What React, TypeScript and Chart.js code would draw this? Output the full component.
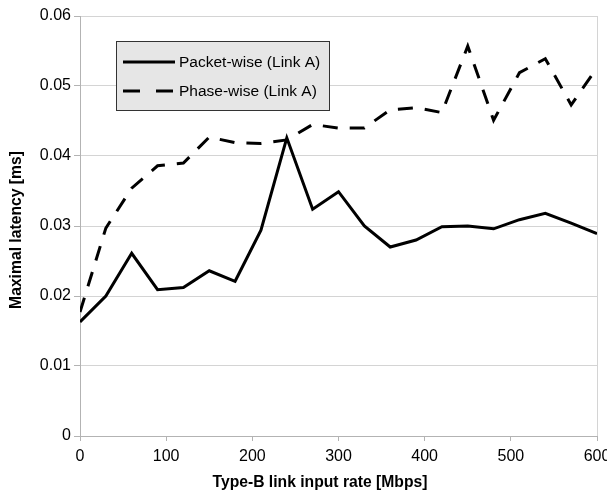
import React, { useEffect, useRef } from "react";
import { Chart, registerables } from "chart.js";

Chart.register(...registerables);

const rates = [0, 30, 60, 90, 120, 150, 180, 210, 240, 270, 300, 330, 360, 390, 420, 450, 480, 510, 540, 570, 600];
const packetWise = [0.0163, 0.0200, 0.0261, 0.0209, 0.0212, 0.0236, 0.0221, 0.0294, 0.0426, 0.0324, 0.0349, 0.0300, 0.0270, 0.0280, 0.0299, 0.0300, 0.0296, 0.0309, 0.0318, 0.0304, 0.0289];
const phaseWise = [0.0177, 0.0297, 0.0354, 0.0386, 0.0390, 0.0427, 0.0419, 0.0418, 0.0423, 0.0445, 0.0440, 0.0440, 0.0466, 0.0469, 0.0462, 0.0557, 0.0451, 0.0519, 0.0539, 0.0473, 0.0526];
const seriesNames = ["Packet-wise (Link A)", "Phase-wise (Link A)"];
const xTitle = "Type-B link input rate [Mbps]";
const yTitle = "Maximal latency [ms]";

const FONT = "'Liberation Sans', Arial, sans-serif";

const overlay = {
  id: "overlay",
  afterDraw(chart: any) {
    const ctx = chart.ctx;
    ctx.save();
    ctx.fillStyle = "#000";
    ctx.font = `bold 15.7px ${FONT}`;
    ctx.textAlign = "center";
    ctx.textBaseline = "middle";
    ctx.fillText(xTitle, 320, 483);
    ctx.translate(17, 230);
    ctx.rotate(-Math.PI / 2);
    ctx.fillText(yTitle, 0, 0);
    ctx.restore();

    ctx.save();
    const bx = 116, by = 41, bw = 213, bh = 69;
    ctx.fillStyle = "#e6e6e6";
    ctx.fillRect(bx, by, bw, bh);
    ctx.strokeStyle = "#333";
    ctx.lineWidth = 1;
    ctx.strokeRect(bx + 0.5, by + 0.5, bw, bh);
    const rows = [62, 91];
    ctx.lineWidth = 3;
    ctx.strokeStyle = "#000";
    rows.forEach((ry, i) => {
      ctx.beginPath();
      ctx.setLineDash(i === 0 ? [] : [17, 16]);
      ctx.moveTo(123, ry);
      ctx.lineTo(175, ry);
      ctx.stroke();
      ctx.setLineDash([]);
      ctx.fillStyle = "#000";
      ctx.font = `15.5px ${FONT}`;
      ctx.textAlign = "left";
      ctx.textBaseline = "middle";
      ctx.fillText(seriesNames[i], 179, ry + 1);
    });
    ctx.restore();
  },
};

export default function App() {
  const ref = useRef<HTMLCanvasElement>(null);
  useEffect(() => {
    const chart = new Chart(ref.current!, {
      type: "line",
      data: {
        labels: rates,
        datasets: [
          {
            label: seriesNames[0],
            data: rates.map((r, i) => ({ x: r, y: packetWise[i] })),
            borderColor: "#000",
            borderWidth: 3,
            pointRadius: 0,
            tension: 0,
            fill: false,
          },
          {
            label: seriesNames[1],
            data: rates.map((r, i) => ({ x: r, y: phaseWise[i] })),
            borderColor: "#000",
            borderWidth: 3,
            borderDash: [15, 12],
            pointRadius: 0,
            tension: 0,
            fill: false,
          },
        ],
      },
      options: {
        animation: false,
        responsive: false,
        devicePixelRatio: 1,
        layout: { padding: { left: 0, right: 10, top: 16, bottom: 0 } },
        plugins: { legend: { display: false }, tooltip: { enabled: false } },
        scales: {
          x: {
            type: "linear",
            min: 0,
            max: 600,
            afterFit: (s: any) => { s.height = 59; s.paddingRight = 10; s.paddingLeft = 0; },
            ticks: { stepSize: 100, color: "#000", font: { family: FONT, size: 16 }, padding: 6, maxRotation: 0 },
            grid: {
              drawOnChartArea: false,
              color: "#b3b3b3",
              tickLength: 5,
            },
            border: { color: "#b3b3b3", width: 1 },
          },
          y: {
            min: 0,
            max: 0.06,
            afterFit: (s: any) => { s.width = 80; s.paddingTop = 0; s.paddingBottom = 0; },
            ticks: {
              stepSize: 0.01,
              color: "#000",
              font: { family: FONT, size: 16 },
              padding: 3,
              callback: (v: any) => (v === 0 ? "0" : Number(v).toFixed(2)),
            },
            grid: { color: "#d4d4d4", tickLength: 6, tickColor: "#b3b3b3" },
            border: { color: "#b3b3b3", width: 1 },
          },
        },
      },
      plugins: [
        {
          id: "rightBorder",
          beforeDatasetsDraw(chart: any) {
            const c = chart.ctx, a = chart.chartArea;
            c.save();
            c.strokeStyle = "#d4d4d4";
            c.lineWidth = 1;
            c.beginPath();
            c.moveTo(Math.round(a.right) + 0.5, a.top);
            c.lineTo(Math.round(a.right) + 0.5, a.bottom);
            c.stroke();
            c.restore();
          },
        },
        overlay,
      ],
    } as any);
    return () => chart.destroy();
  }, []);
  return (
    <div style={{ position: "fixed", left: 0, top: 0, width: 607, height: 495, background: "#fff" }}>
      <canvas ref={ref} width={607} height={495} style={{ width: 607, height: 495, display: "block" }} />
    </div>
  );
}
